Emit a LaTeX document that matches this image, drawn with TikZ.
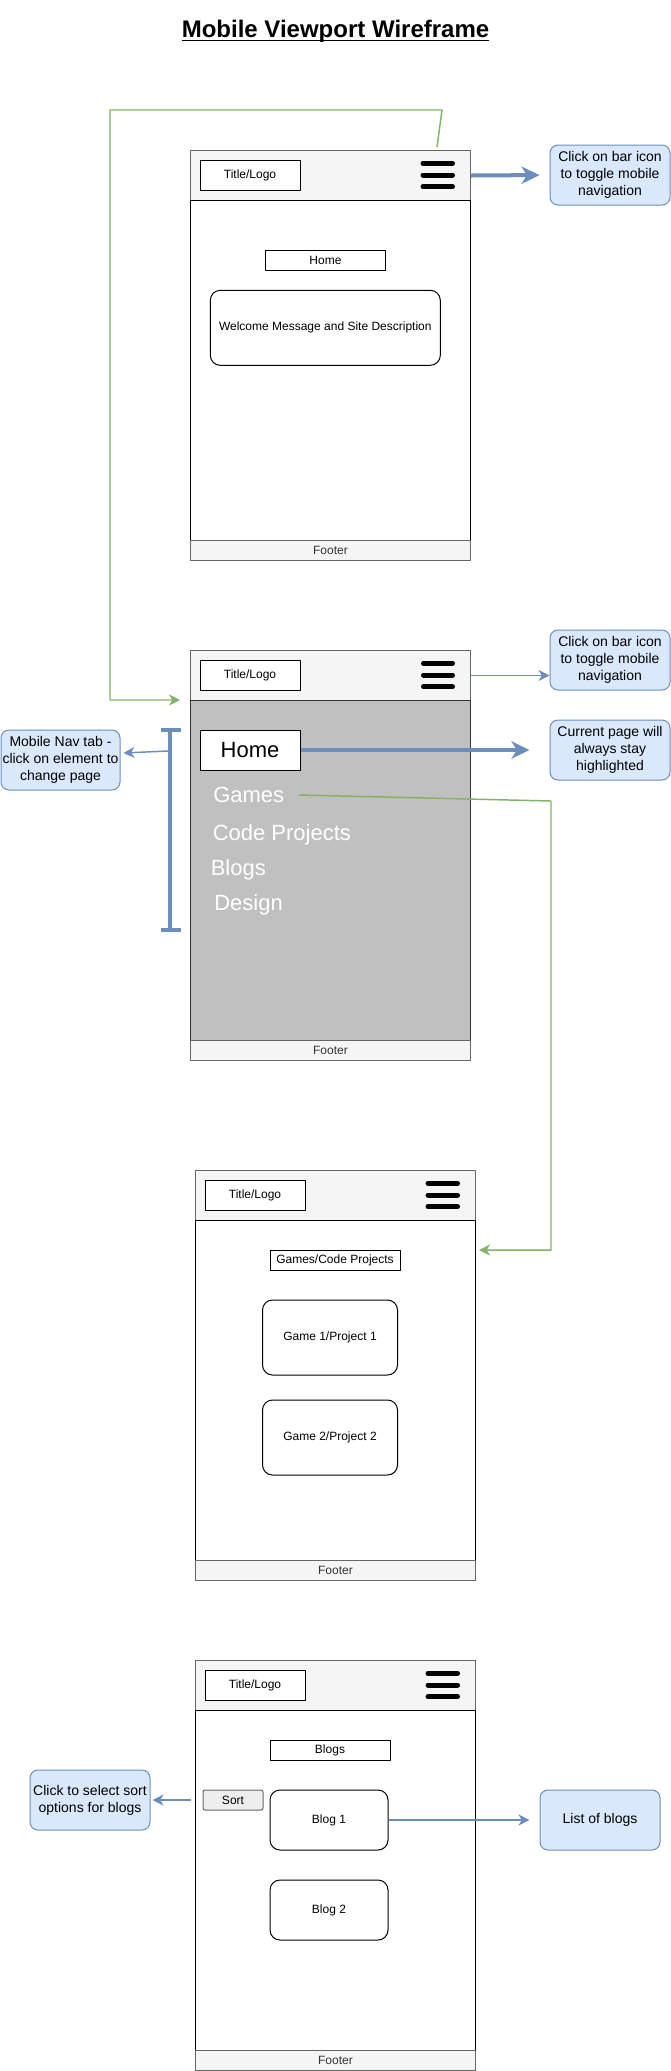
\documentclass[tikz,border=0pt]{standalone}
\usepackage{fontspec}
\setmainfont{Liberation Sans}
\usetikzlibrary{arrows.meta}
\definecolor{hdrfill}{HTML}{F5F5F5}
\definecolor{hdrline}{HTML}{666666}
\definecolor{footgray}{HTML}{333333}
\definecolor{navgray}{HTML}{C0C0C0}
\definecolor{notefill}{HTML}{DAE8FC}
\definecolor{noteline}{HTML}{6C8EBF}
\definecolor{linkgreen}{HTML}{82B366}
\definecolor{sortfill}{HTML}{EEEEEE}
\begin{document}
\begin{tikzpicture}[x=0.75pt,y=-0.75pt,line join=round,
  every node/.style={font=\fontsize{9}{10.8}\selectfont},
  heading/.style={inner sep=0pt,anchor=base,font=\fontsize{18}{21.6}\selectfont\bfseries},
  hdr/.style={anchor=north west,draw=hdrline,fill=hdrfill,line width=0.75pt,minimum width=210pt,minimum height=37.5pt,inner sep=0pt},
  screen/.style={anchor=north west,draw,line width=0.75pt,minimum width=210pt,minimum height=255pt,inner sep=0pt},
  foot/.style={anchor=north west,draw=hdrline,fill=hdrfill,text=footgray,line width=0.75pt,minimum width=210pt,minimum height=15pt,inner sep=0pt},
  logo/.style={draw,fill=white,line width=0.75pt,minimum width=75pt,minimum height=22.5pt,inner sep=0pt},
  pagetag/.style={draw,fill=white,line width=0.75pt,minimum height=15pt,inner sep=0pt},
  card/.style={draw,line width=0.75pt,rounded corners=7.5pt,minimum height=56.25pt,inner sep=0pt},
  bar/.style={line width=3.75pt,line cap=round},
  navitem/.style={text=white,anchor=west,inner sep=0pt,font=\fontsize{16.5}{19.8}\selectfont},
  note/.style={draw=noteline,fill=notefill,line width=0.75pt,rounded corners=6pt,align=center,minimum width=90pt,minimum height=45pt,inner sep=0pt,font=\fontsize{10.5}{12.6}\selectfont},
  pointer/.style={draw=noteline,line width=1.1pt,-{Stealth[length=8.25pt,width=8.25pt,inset=2.5pt]}},
  bigpointer/.style={draw=noteline,line width=3pt,-{Stealth[length=13.5pt,width=13pt,inset=4pt]}},
  golink/.style={draw=linkgreen,line width=1.1pt,-{Stealth[length=8.25pt,width=8.25pt,inset=2.5pt]}}]
  \useasboundingbox (0,0) rectangle (671,2071);
  \node[heading] (title) at (335.5,37.3) {Mobile Viewport Wireframe};
  \draw[line width=1.2pt] ([yshift=-2.5pt]title.base west) -- ([yshift=-2.5pt]title.base east);

  % home page
  \node[hdr] (hdr1) at (190,150) {};
  \node[screen,fill=white] (body1) at (190,200) {};
  \node[foot] (foot1) at (190,540) {Footer};
  \node[logo] (logo1) at (250,175) {Title/Logo};
  \draw[bar] (423,163.3) -- (452.5,163.3) (423,175) -- (452.5,175) (423,186.7) -- (452.5,186.7);
  \node[pagetag,minimum width=90pt] (home1) at (325.5,260) {Home};
  \node[card,minimum width=172.5pt] (welcome) at (325.3,327.8) {Welcome Message and Site Description};
  \node[note] (note1) at (610,175) {Click on bar icon\\to toggle mobile\\navigation};
  \draw[bigpointer,shorten >=7.5pt] (hdr1.east) -- (note1.west);

  % nav open
  \node[hdr] (hdr2) at (190,650) {};
  \node[screen,fill=navgray,draw=footgray] (body2) at (190,700) {};
  \node[foot] (foot2) at (190,1040) {Footer};
  \node[logo] (logo2) at (250,675) {Title/Logo};
  \draw[bar] (423.5,663.3) -- (452.5,663.3) (423.5,675) -- (452.5,675) (423.5,686.7) -- (452.5,686.7);
  \node[logo,minimum height=30pt,font=\fontsize{16.5}{19.8}\selectfont] (homenav) at (250,750) {Home};
  \node[navitem] (games) at (213,795) {Games};
  \node[navitem] (code) at (212.5,835) {Code Projects};
  \node[navitem] (blogs) at (210.5,869.5) {Blogs};
  \node[navitem] (design) at (214,905) {Design};
  \node[note] (note2) at (610,660) {Click on bar icon\\to toggle mobile\\navigation};
  \node[note,minimum width=89.25pt] (navnote) at (60.5,760) {Mobile Nav tab -\\click on element to\\change page};
  \node[note] (hlnote) at (610,750) {Current page will\\always stay\\highlighted};
  \draw[noteline,line width=2.6pt] (160.5,730) -- (180.5,730) (170,730) -- (170,930) (160.5,930) -- (180.5,930);
  \coordinate (navtap) at (168,751);
  \draw[pointer] (hdr2.east) -- (hdr2.east -| note2.west);
  \draw[bigpointer,shorten >=15pt] (homenav.east) -- (hlnote.west);
  \draw[pointer] (navtap) -- ([shift={(3,-7)}]navnote.east);
  \draw[golink,shorten >=7.5pt] ([shift={(-34,-3)}]hdr1.north east) -- ++(5,-37) -- (110,110) |- (body2.north west);

  % games / code projects
  \node[hdr] (hdr3) at (195,1170) {};
  \node[screen,fill=white] (body3) at (195,1220) {};
  \node[foot] (foot3) at (195,1560) {Footer};
  \node[logo] (logo3) at (255,1195) {Title/Logo};
  \draw[bar] (428,1183.3) -- (457.5,1183.3) (428,1195) -- (457.5,1195) (428,1206.7) -- (457.5,1206.7);
  \node[pagetag,minimum width=97.5pt] (gamestag) at (335,1260) {Games/Code Projects};
  \node[card,minimum width=101.25pt] (game1) at (330,1337.5) {Game 1/Project 1};
  \node[card,minimum width=101.25pt] (game2) at (330,1437.5) {Game 2/Project 2};
  \draw[golink] ([xshift=11pt]games.east) -- (551,801) |- ([shift={(3,30)}]body3.north east);

  % blogs
  \node[hdr] (hdr4) at (195,1660) {};
  \node[screen,fill=white] (body4) at (195,1710) {};
  \node[foot] (foot4) at (195,2050) {Footer};
  \node[logo] (logo4) at (255,1685) {Title/Logo};
  \draw[bar] (428,1673.3) -- (457.5,1673.3) (428,1685) -- (457.5,1685) (428,1696.7) -- (457.5,1696.7);
  \node[pagetag,minimum width=90pt] (blogstag) at (330,1750) {Blogs};
  \node[draw=hdrline,fill=sortfill,line width=0.75pt,rounded corners=1.5pt,minimum width=45pt,minimum height=15pt,inner sep=0pt] (sort) at (233,1800) {Sort};
  \node[card,minimum width=88.5pt,minimum height=45pt] (blog1) at (329,1820) {Blog 1};
  \node[card,minimum width=88.5pt,minimum height=45pt] (blog2) at (329,1910) {Blog 2};
  \node[note] (sortnote) at (90,1800) {Click to select sort\\options for blogs};
  \node[note] (listnote) at (600,1820) {List of blogs};
  \draw[pointer,shorten <=8.8pt,shorten >=1.5pt] (sort.west) -- (sortnote.east);
  \draw[pointer,shorten >=7.5pt] (blog1.east) -- (listnote.west);
\end{tikzpicture}
\end{document}
